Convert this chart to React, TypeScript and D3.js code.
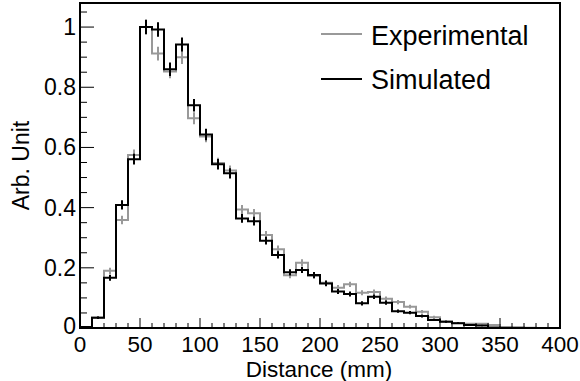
import React from "react";
import * as d3 from "d3";

const binEdges = d3.range(0, 401, 10);
const experimental = [0.003, 0.035, 0.19, 0.359, 0.575, 1.0, 0.912, 0.852, 0.9, 0.697, 0.636, 0.548, 0.523, 0.394, 0.381, 0.309, 0.262, 0.175, 0.217, 0.173, 0.15, 0.134, 0.145, 0.117, 0.12, 0.097, 0.086, 0.071, 0.054, 0.036, 0.022, 0.017, 0.014, 0.014, 0.01, 0.002, 0.001, 0.001, 0, 0];
const experimentalErr = [0.0013, 0.0045, 0.0105, 0.0144, 0.0182, 0.024, 0.0229, 0.0222, 0.0228, 0.02, 0.0191, 0.0178, 0.0174, 0.0151, 0.0148, 0.0133, 0.0123, 0.01, 0.0112, 0.01, 0.0093, 0.0088, 0.0091, 0.0082, 0.0083, 0.0075, 0.007, 0.0064, 0.0056, 0.0046, 0.0036, 0.0031, 0.0028, 0.0028, 0.0024, 0.0011, 0.0008, 0.0008, 0, 0];
const simulated = [0.003, 0.034, 0.167, 0.409, 0.561, 1.0, 0.992, 0.86, 0.942, 0.74, 0.643, 0.544, 0.514, 0.364, 0.355, 0.29, 0.243, 0.185, 0.193, 0.176, 0.148, 0.121, 0.113, 0.082, 0.104, 0.084, 0.056, 0.051, 0.04, 0.027, 0.021, 0.016, 0.01, 0.008, 0.002, 0.001, 0.001, 0, 0, 0];
const simulatedErr = [0.0013, 0.0044, 0.0098, 0.0153, 0.018, 0.024, 0.0239, 0.0223, 0.0233, 0.0206, 0.0192, 0.0177, 0.0172, 0.0145, 0.0143, 0.0129, 0.0118, 0.0103, 0.0105, 0.0101, 0.0092, 0.0083, 0.0081, 0.0069, 0.0077, 0.007, 0.0057, 0.0054, 0.0048, 0.0039, 0.0035, 0.003, 0.0024, 0.0021, 0.0011, 0.0008, 0.0008, 0, 0, 0];
const xTicks = [0, 50, 100, 150, 200, 250, 300, 350, 400];
const yTicks = [0, 0.2, 0.4, 0.6, 0.8, 1];
const yTickLabels = ["0", "0.2", "0.4", "0.6", "0.8", "1"];
const legendLabels = ["Experimental", "Simulated"];

const W = 580, H = 381;
const L = 80, R = 560, T = 3, B = 328;
const FONT = "'Liberation Sans', Arial, Helvetica, sans-serif";

export default function App() {
  const x = d3.scaleLinear().domain([0, 400]).range([L, R]);
  const y = d3.scaleLinear().domain([0, 1.08]).range([B, T]);

  const stepPath = (vals: number[]) => {
    const pts: [number, number][] = vals.map((v, i) => [binEdges[i], v]);
    pts.push([binEdges[vals.length], vals[vals.length - 1]]);
    return d3.line<[number, number]>().x(d => x(d[0])).y(d => y(d[1])).curve(d3.curveStepAfter)(pts) || "";
  };

  const errBars = (vals: number[], errs: number[], color: string) =>
    vals.map((v, i) => {
      if (v <= 0) return null;
      const cx = x(binEdges[i] + 5);
      return <line key={i} x1={cx} x2={cx} y1={y(v - errs[i])} y2={y(v + errs[i])} stroke={color} strokeWidth={2} />;
    });

  const xMinor = d3.range(0, 401, 10);
  const yMinor = d3.range(0, 1.08, 0.05);

  return (
    <svg width={W} height={H} style={{ position: "absolute", left: 0, top: 0, background: "#fff" }} fontFamily={FONT}>
      <rect x={0} y={0} width={W} height={H} fill="#fff" />
      {/* histograms */}
      <path d={stepPath(experimental)} fill="none" stroke="#999" strokeWidth={2} />
      {errBars(experimental, experimentalErr, "#999")}
      <path d={stepPath(simulated)} fill="none" stroke="#000" strokeWidth={2} />
      {errBars(simulated, simulatedErr, "#000")}

      {/* frame */}
      <rect x={L} y={T} width={R - L} height={B - T} fill="none" stroke="#000" strokeWidth={2} />

      {/* x ticks */}
      {xMinor.map((t, i) => {
        const major = t % 50 === 0;
        return <line key={"xm" + i} x1={x(t)} x2={x(t)} y1={B} y2={B - (major ? 10 : 5)} stroke="#000" strokeWidth={1} />;
      })}
      {xTicks.map((t, i) => (
        <text key={"xl" + i} x={x(t)} y={351.5} textAnchor="middle" fontSize={22.5}>{t}</text>
      ))}
      {/* y ticks */}
      {yMinor.map((t, i) => {
        const major = Math.abs(t / 0.2 - Math.round(t / 0.2)) < 1e-6;
        return <line key={"ym" + i} x1={L} x2={L + (major ? 14 : 7)} y1={y(t)} y2={y(t)} stroke="#000" strokeWidth={1} />;
      })}
      {yTicks.map((t, i) => (
        <text key={"yl" + i} x={76} y={y(t) + (t === 0 ? 6 : 8)} textAnchor="end" fontSize={23}>{yTickLabels[i]}</text>
      ))}

      {/* axis titles */}
      <text x={319} y={377} textAnchor="middle" fontSize={22.5}>Distance (mm)</text>
      <text transform={`translate(29,${(T + B) / 2}) rotate(-90)`} textAnchor="middle" fontSize={23}>Arb. Unit</text>

      {/* legend */}
      <line x1={321} x2={362} y1={34} y2={34} stroke="#999" strokeWidth={2} />
      <text x={371} y={45} fontSize={27}>{legendLabels[0]}</text>
      <line x1={321} x2={362} y1={79} y2={79} stroke="#000" strokeWidth={2} />
      <text x={371} y={89} fontSize={27}>{legendLabels[1]}</text>
    </svg>
  );
}
